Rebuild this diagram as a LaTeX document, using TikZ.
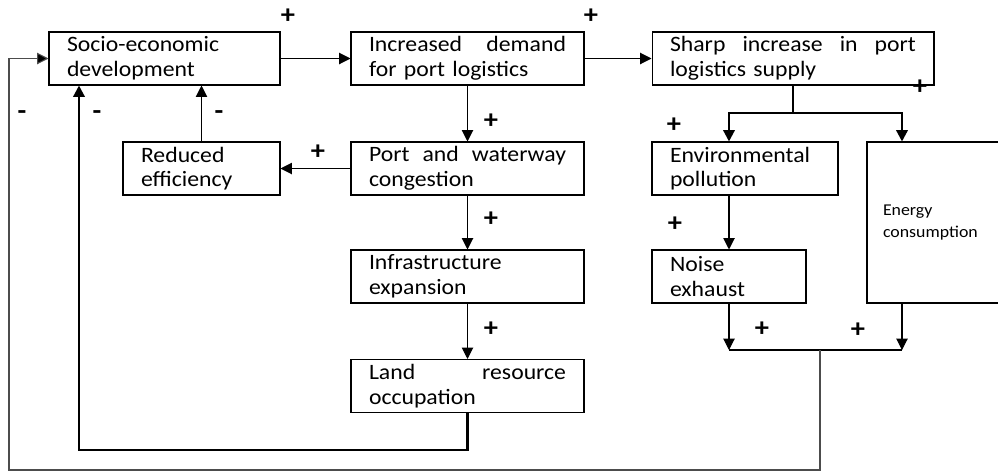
\documentclass[tikz,border=0pt]{standalone}
\usepackage{fontspec}
\setmainfont{Carlito}[FakeStretch=1.08]
\usetikzlibrary{arrows.meta}

\tikzset{
	box/.style={draw, line width=0.6pt, inner sep=0pt, align=left, minimum height=1.06cm, font=\fontsize{12.5pt}{14pt}\selectfont},
	link/.style={line width=0.6pt, -{Triangle[length=6.5pt,width=6.5pt]}},
	heavy/.style={line width=1.3pt},
	plain/.style={line width=0.6pt},
	loopline/.style={line width=1pt, color=black!70},
	sign/.style={inner sep=0pt, font=\bfseries\fontsize{15pt}{15pt}\selectfont},
}

\begin{document}
\begin{tikzpicture}[x=0.02cm, y=-0.02cm]
	%%%%% START %%%%%
	\useasboundingbox (0,0) rectangle (998,471);
	\clip (0,0) rectangle (998,471);
	
	\node[box, minimum width=4.62cm, text width=3.9cm] (socio) at (164.5,58.5) {Socio-economic\\development};
	\node[box, minimum width=4.66cm, text width=3.94cm] (demand) at (467.5,58.5) {Increased\hfill demand\\for port logistics};
	\node[box, minimum width=5.64cm, text width=4.92cm] (sharp) at (793,58.5) {Sharp\hfill increase\hfill in\hfill port\\logistics supply};
	
	\node[box, minimum width=3.14cm, text width=2.42cm] (reduced) at (201.5,168.5) {Reduced\\efficiency};
	\node[box, minimum width=4.66cm, text width=3.94cm] (port) at (467.5,168.5) {Port\hfill and\hfill waterway\\congestion};
	\node[box, minimum width=3.72cm, text width=3cm] (env) at (745,168.5) {Environmental\\pollution};
	\node[box, minimum width=3.2cm, minimum height=3.22cm, text width=2.56cm, font=\fontsize{9.4pt}{13pt}\selectfont] (energy) at (947,222.5) {Energy\\consumption};
	
	\node[box, minimum width=4.66cm, text width=3.94cm] (infra) at (467.5,276.5) {Infrastructure\\expansion};
	\node[box, minimum width=3.08cm, text width=2.36cm] (noise) at (729,276.5) {Noise\\exhaust};
	\node[box, minimum width=4.66cm, text width=3.94cm] (land) at (467.5,386) {Land\hfill resource\\occupation};
	
	\coordinate (split) at (793,113);
	\coordinate (join) at (820,350);
	\coordinate (tapR) at (902,350);
	\coordinate (outer) at (9,470);
	\coordinate (inner) at (79,450);
	
	% main chain
	\draw[link] (socio) -- (demand);
	\draw[link] (demand) -- (sharp);
	\draw[link] (demand) -- (port);
	\draw[link] (port) -- (infra);
	\draw[link] (infra) -- (land);
	\draw[link] (port) -- (reduced);
	\draw[link] (reduced.north) -- (reduced.north |- socio.south);
	
	% supply branch
	\draw[heavy] (sharp.south) -- (split);
	\draw[link, heavy] (split) -| (noise.north |- env.north);
	\draw[link, heavy] (split) -| (energy.north -| tapR);
	\draw[link] (noise.north |- env.south) -- (noise.north);
	\draw[link] (noise.south) -- (noise.south |- join);
	\draw[link] (energy.south -| tapR) -- (tapR);
	\draw[plain] (noise.south |- join) -- (tapR);
	
	% feedback loops
	\draw[loopline, link, -{Triangle[length=6.5pt,width=6.5pt,fill=black]}] (join) |- (outer) |- (socio.west);
	\draw[link, heavy] (land.south) |- (inner) -- (inner |- socio.south);
	
	% signs
	\node[sign] (s1) at (288,16) {+};
	\node[sign] (s2) at (591,16) {+};
	\node[sign] (s3) at (920,87) {+};
	\node[sign] (s4) at (674,125) {+};
	\node[sign] (s5) at (491,121) {+};
	\node[sign] (s6) at (318,152) {+};
	\node[sign] (s7) at (491,219) {+};
	\node[sign] (s8) at (491,329) {+};
	\node[sign] (s9) at (675,224) {+};
	\node[sign] (s10) at (762,329) {+};
	\node[sign] (s11) at (858,330) {+};
	\node[sign] (m1) at (22,115) {-};
	\node[sign] (m2) at (97,115) {-};
	\node[sign] (m3) at (219,115) {-};
	%%%%% END %%%%%
\end{tikzpicture}
\end{document}
